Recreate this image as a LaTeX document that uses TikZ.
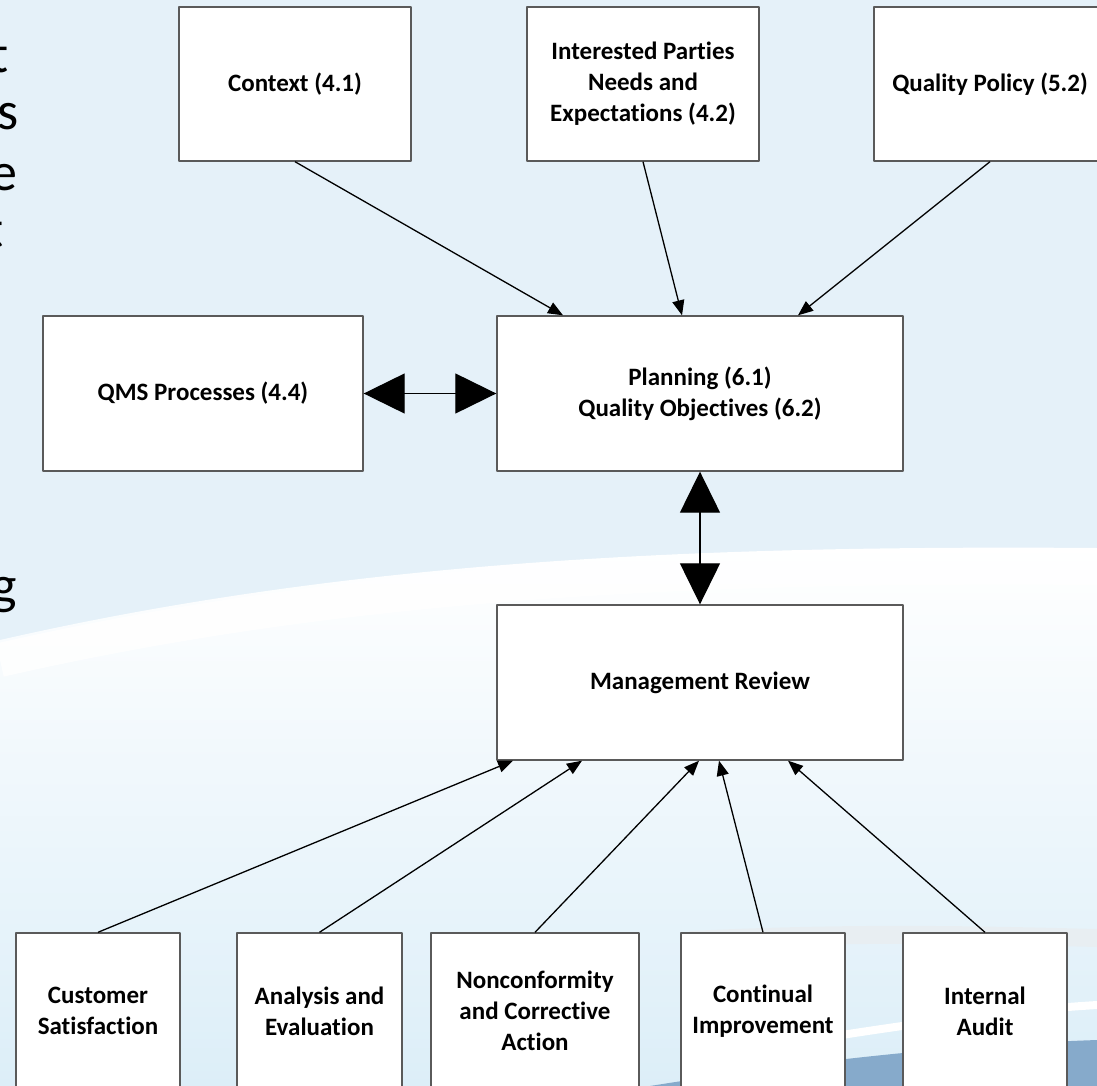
\documentclass[tikz,border=0pt]{standalone}
\usepackage{fontspec}
\setmainfont{Carlito}[RawFeature={-liga;-clig;-calt;-dlig;-rlig}]
\usetikzlibrary{arrows.meta}

\definecolor{slideblue}{HTML}{E5F1F9}
\definecolor{paleblue}{HTML}{DCEEF8}
\definecolor{deepblue}{HTML}{86AACB}
\definecolor{boxline}{HTML}{5A5A5A}

\tikzset{
	box/.style={draw=boxline, line width=1.4pt, fill=white, align=center, inner sep=4pt,
		font=\fontsize{25}{31}\selectfont\bfseries},
	topbox/.style={box, minimum width=232pt, minimum height=154pt},
	midbox/.style={box, minimum height=155pt},
	footbox/.style={box, minimum height=156pt},
	link/.style={line width=1.3pt, -{Triangle[length=15pt,width=12pt]}},
	twoway/.style={line width=1.3pt, {Triangle[length=41pt,width=40pt]}-{Triangle[length=41pt,width=40pt]}},
	slidetext/.style={anchor=base east, inner sep=0pt, font=\fontsize{54}{58}\selectfont}
}

\begin{document}
\begin{tikzpicture}[x=1pt, y=-1pt, line join=round]
	\useasboundingbox (0,0) rectangle (1097,1086);
	\clip (0,0) rectangle (1097,1086);
	
	% 1. Nen slide
	\fill[slideblue] (0,0) rectangle (1097,1086);
	\shade[top color=white, bottom color=paleblue]
	(0,640) .. controls (350,560) and (700,545) .. (1097,548) -- (1097,1086) -- (0,1086) -- cycle;
	\draw[white, line width=34pt, opacity=0.85]
	(0,660) .. controls (350,580) and (700,565) .. (1097,568);
	\draw[black!8, line width=18pt, opacity=0.5] (690,940) .. controls (850,932) and (980,935) .. (1097,938);
	\fill[deepblue] (650,1086) .. controls (800,1062) and (950,1045) .. (1097,1040) -- (1097,1086) -- cycle;
	\draw[white, line width=8pt] (700,1058) .. controls (850,1033) and (980,1012) .. (1097,1005);
	
	% 2. Chu bi cat o mep trai
	\node[slidetext] (w1) at (9,73) {t};
	\node[slidetext] (w2) at (19,130) {s};
	\node[slidetext] (w3) at (18,190) {e};
	\node[slidetext] (w4) at (4,247) {t};
	\node[slidetext] (w5) at (17,603) {g};
	
	% 3. Cac o phia tren
	\node[topbox] (ctx) at (295,84) {Context (4.1)};
	\node[topbox] (ipn) at (643,84) {Interested Parties\\Needs and\\Expectations (4.2)};
	\node[topbox] (qp) at (990,84) {Quality Policy (5.2)};
	
	% 4. Hoach dinh va xem xet
	\node[midbox, minimum width=320pt] (qms) at (203,393.5) {QMS Processes (4.4)};
	\node[midbox, minimum width=406pt] (plan) at (700,393.5) {Planning (6.1)\\Quality Objectives (6.2)};
	\node[midbox, minimum width=406pt] (mr) at (700,682.5) {Management Review};
	
	% 5. Cac o phia duoi
	\node[footbox, minimum width=164pt] (cs) at (98,1011) {Customer\\Satisfaction};
	\node[footbox, minimum width=165pt] (ae) at (319.5,1011) {Analysis and\\Evaluation};
	\node[footbox, minimum width=208pt] (nc) at (535,1011) {Nonconformity\\and Corrective\\Action};
	\node[footbox, minimum width=164pt] (ci) at (763,1011) {Continual\\Improvement};
	\node[footbox, minimum width=164pt] (ia) at (985,1011) {Internal\\Audit};
	
	% 6. Mui ten
	\draw[link] (ctx.south) -- ([xshift=-137pt]plan.north);
	\draw[link] (ipn.south) -- ([xshift=-18pt]plan.north);
	\draw[link] (qp.south) -- ([xshift=98pt]plan.north);
	\draw[twoway] (qms.east) -- (plan.west);
	\draw[twoway] (plan.south) -- (mr.north);
	\draw[link] (cs.north) -- ([xshift=-187pt]mr.south);
	\draw[link] (ae.north) -- ([xshift=-118pt]mr.south);
	\draw[link] (nc.north) -- ([xshift=-1pt]mr.south);
	\draw[link] (ci.north) -- ([xshift=19pt]mr.south);
	\draw[link] (ia.north) -- ([xshift=88pt]mr.south);
	
\end{tikzpicture}
\end{document}
